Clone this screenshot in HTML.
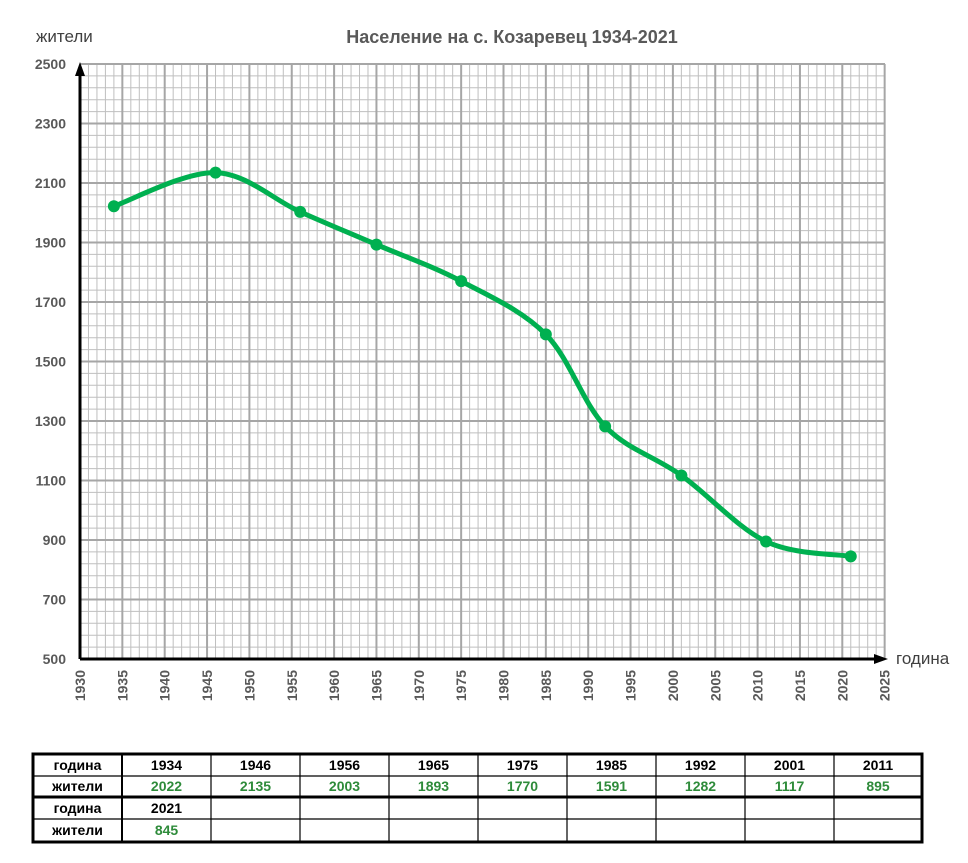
<!DOCTYPE html>
<html><head><meta charset="utf-8"><style>
body{margin:0;background:#fff;width:968px;height:863px;overflow:hidden;font-family:"Liberation Sans",sans-serif}
svg{position:absolute;left:0;top:0}
</style></head><body>
<svg id="s" width="968" height="863" xmlns="http://www.w3.org/2000/svg">
<text x="512" y="43" text-anchor="middle" font-size="18" font-weight="bold" fill="#595959" font-family="Liberation Sans, sans-serif">Население на с. Козаревец 1934-2021</text>
<text x="36" y="42" font-size="17" fill="#404040" font-family="Liberation Sans, sans-serif">жители</text>
<text x="896" y="664" font-size="17" fill="#404040" font-family="Liberation Sans, sans-serif">година</text>
<g id="grid"></g><g id="lab"></g><g id="tbl"></g>
<path d="M80,659 L80,68" stroke="#000" stroke-width="3"/>
<path d="M75,76 L80,62 L85,76 Z" fill="#000"/>
<path d="M80,659 L880,659" stroke="#000" stroke-width="3"/>
<path d="M874,654 L888,659 L874,664 Z" fill="#000"/>
<path id="curve" fill="none" stroke="#00b050" stroke-width="5" stroke-linecap="round"/>
<g id="mk"></g>
</svg>
<script>
var NS="http://www.w3.org/2000/svg";
function el(p,t,a,txt){var e=document.createElementNS(NS,t);for(var k in a)e.setAttribute(k,a[k]);if(txt!=null)e.textContent=txt;document.getElementById(p).appendChild(e);return e;}
var X=function(y){return 80+(y-1930)*8.47}, Y=function(v){return 659-(v-500)*0.2975};
for(var y=1931;y<=2025;y++){if(y%5)el("grid","line",{x1:X(y),x2:X(y),y1:64,y2:659,stroke:"#bfbfbf","stroke-width":1});}
for(var v=540;v<=2500;v+=40){if((v-500)%200)el("grid","line",{x1:80,x2:885,y1:Y(v),y2:Y(v),stroke:"#bfbfbf","stroke-width":1});}
for(var y=1935;y<=2025;y+=5)el("grid","line",{x1:X(y),x2:X(y),y1:64,y2:659,stroke:"#a6a6a6","stroke-width":2});
for(var v=700;v<=2500;v+=200)el("grid","line",{x1:80,x2:885,y1:Y(v),y2:Y(v),stroke:"#a6a6a6","stroke-width":2});
for(var v=500;v<=2500;v+=200)el("lab","text",{x:66,y:Y(v)+5,"text-anchor":"end","font-size":14,"font-weight":"bold",fill:"#595959","font-family":"Liberation Sans, sans-serif"},v);
for(var y=1930;y<=2025;y+=5)el("lab","text",{x:0,y:0,"text-anchor":"end","font-size":14,"font-weight":"bold",fill:"#595959","font-family":"Liberation Sans, sans-serif",transform:"translate("+(X(y)+5)+",670) rotate(-90)"},y);
var d=[[1934,2022],[1946,2135],[1956,2003],[1965,1893],[1975,1770],[1985,1591],[1992,1282],[2001,1117],[2011,895],[2021,845]];
var p=d.map(function(a){return[X(a[0]),Y(a[1])]});
var s="M"+p[0][0]+","+p[0][1];
for(var i=0;i<p.length-1;i++){var p0=p[i-1]||p[i],p1=p[i],p2=p[i+1],p3=p[i+2]||p2,t=1/6;
s+=" C"+(p1[0]+(p2[0]-p0[0])*t)+","+(p1[1]+(p2[1]-p0[1])*t)+" "+(p2[0]-(p3[0]-p1[0])*t)+","+(p2[1]-(p3[1]-p1[1])*t)+" "+p2[0]+","+p2[1];}
document.getElementById("curve").setAttribute("d",s);
p.forEach(function(q){el("mk","circle",{cx:q[0],cy:q[1],r:6,fill:"#00b050"})});
var cols=[33,122,211,300,389,478,567,656,745,834,922],rows=[754,776,797,819,842];
var F={"font-family":"Liberation Sans, sans-serif","font-size":14,"font-weight":"bold","text-anchor":"middle"};
function tx(x,y,t,c){var a=Object.assign({},F,{x:x,y:y,fill:c});el("tbl","text",a,t);}
for(var r=1;r<4;r++)el("tbl","line",{x1:33,x2:922,y1:rows[r],y2:rows[r],stroke:"#000","stroke-width":r==2?3:1.2});
for(var c=1;c<10;c++)el("tbl","line",{x1:cols[c],x2:cols[c],y1:754,y2:842,stroke:"#000","stroke-width":c==1?2:1.2});
el("tbl","rect",{x:33,y:754,width:889,height:88,fill:"none",stroke:"#000","stroke-width":3});
var yrs=[1934,1946,1956,1965,1975,1985,1992,2001,2011],pop=[2022,2135,2003,1893,1770,1591,1282,1117,895];
tx(77.5,770,"година","#000");tx(77.5,791,"жители","#000");tx(77.5,813,"година","#000");tx(77.5,835,"жители","#000");
for(var i=0;i<9;i++){var cx=(cols[i+1]+cols[i+2])/2;tx(cx,770,yrs[i],"#000");tx(cx,791,pop[i],"#2e8b3a");}
tx(166.5,813,"2021","#000");tx(166.5,835,"845","#2e8b3a");
</script>
</body></html>
